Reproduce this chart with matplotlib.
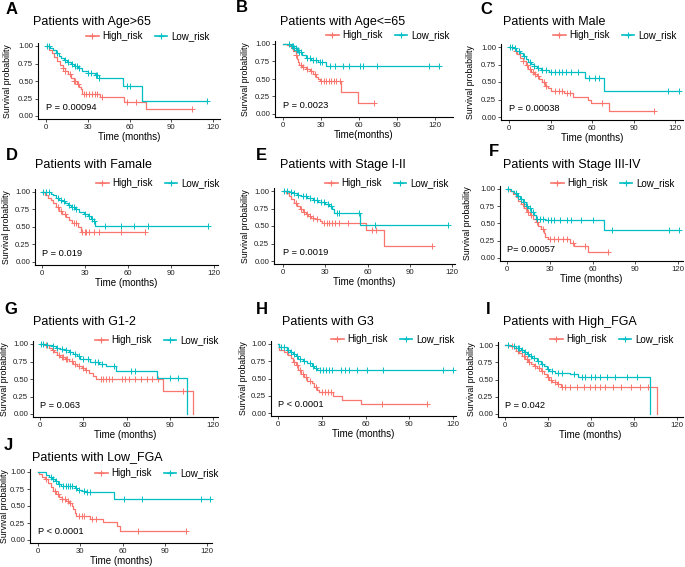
import numpy as np
import matplotlib
matplotlib.use("Agg")
import matplotlib.pyplot as plt
from matplotlib.lines import Line2D

plt.rcParams['font.family'] = ['Liberation Sans', 'DejaVu Sans']

RED = '#F8766D'
TEAL = '#00BFC4'

# ---------------- data ----------------
letters = ['A', 'B', 'C', 'D', 'E', 'F', 'G', 'H', 'I', 'J']
titles = ['Patients with Age>65', 'Patients with Age<=65', 'Patients with Male',
          'Patients with Famale', 'Patients with Stage I-II', 'Patients with Stage III-IV',
          'Patients with G1-2', 'Patients with G3', 'Patients with High_FGA',
          'Patients with Low_FGA']
pvals = ['P = 0.00094', 'P = 0.0023', 'P = 0.00038', 'P = 0.019', 'P = 0.0019',
         'P= 0.00057', 'P = 0.063', 'P < 0.0001', 'P = 0.042', 'P < 0.0001']
xlabels = ['Time (months)', 'Time(months)', 'Time (months)', 'Time (months)',
           'Time (months)', 'Time (months)', 'Time (months)', 'Time (months)',
           'Time (months)', 'Time (months)']
ylabel_text = 'Survival probability'
series_names = ['High_risk', 'Low_risk']
x_ticks = [0, 30, 60, 90, 120]
y_ticks = [0.00, 0.25, 0.50, 0.75, 1.00]

# High risk: step times, survival after step, end of follow-up, censor times
hi_t = {
 'A': [2, 4, 6, 8, 10, 12, 14, 16, 18, 20, 22, 24, 25, 26, 39, 56, 72],
 'B': [3, 6, 8, 10, 11, 12, 13, 15, 18, 21, 24, 26, 28, 29, 46, 59],
 'C': [2, 4, 6, 8, 10, 12, 14, 16, 18, 20, 22, 24, 26, 28, 30, 40, 46, 57, 59, 72],
 'D': [2, 4, 6, 8, 10, 12, 14, 17, 19, 21, 25, 27],
 'E': [2, 4, 6, 8, 10, 12, 14, 16, 18, 20, 23, 26, 28, 59, 72],
 'F': [2, 4, 6, 8, 10, 12, 14, 16, 18, 20, 22, 24, 26, 27, 29, 44, 47, 57],
 'G': [3, 6, 8, 10, 12, 14, 17, 20, 23, 26, 29, 31, 34, 37, 39, 85, 106],
 'H': [0.5, 4, 7, 9, 10, 12, 14, 16, 18, 20, 23, 25, 27, 28, 38, 44, 57],
 'I': [3, 6, 8, 10, 12, 14, 16, 18, 20, 22, 25, 27, 29, 31, 33, 36, 39, 106],
 'J': [1, 3, 5, 7, 9, 11, 13, 15, 17, 20, 22, 24, 25, 26, 27, 37, 46, 56, 58],
}
hi_s = {
 'A': [0.95, 0.90, 0.84, 0.78, 0.73, 0.68, 0.64, 0.60, 0.55, 0.50, 0.46, 0.42, 0.38, 0.31, 0.27, 0.20, 0.10],
 'B': [0.98, 0.94, 0.90, 0.84, 0.79, 0.74, 0.70, 0.67, 0.64, 0.61, 0.57, 0.53, 0.50, 0.47, 0.31, 0.15],
 'C': [0.98, 0.94, 0.90, 0.85, 0.80, 0.74, 0.68, 0.64, 0.61, 0.58, 0.54, 0.50, 0.45, 0.41, 0.37, 0.34, 0.29, 0.25, 0.20, 0.09],
 'D': [0.96, 0.92, 0.88, 0.84, 0.78, 0.73, 0.68, 0.64, 0.60, 0.55, 0.50, 0.43],
 'E': [0.97, 0.93, 0.88, 0.83, 0.78, 0.74, 0.70, 0.67, 0.64, 0.62, 0.60, 0.57, 0.55, 0.44, 0.22],
 'F': [0.97, 0.93, 0.88, 0.83, 0.78, 0.72, 0.67, 0.62, 0.57, 0.52, 0.47, 0.42, 0.36, 0.31, 0.27, 0.22, 0.17, 0.08],
 'G': [0.98, 0.95, 0.91, 0.88, 0.85, 0.82, 0.79, 0.76, 0.72, 0.69, 0.66, 0.63, 0.59, 0.55, 0.50, 0.33, 0.0],
 'H': [0.91, 0.88, 0.84, 0.79, 0.74, 0.69, 0.63, 0.57, 0.52, 0.47, 0.44, 0.38, 0.33, 0.31, 0.25, 0.19, 0.13],
 'I': [0.98, 0.95, 0.92, 0.88, 0.84, 0.80, 0.76, 0.72, 0.69, 0.66, 0.62, 0.58, 0.54, 0.49, 0.46, 0.43, 0.39, 0.0],
 'J': [0.97, 0.93, 0.89, 0.84, 0.78, 0.72, 0.67, 0.63, 0.60, 0.58, 0.55, 0.50, 0.45, 0.40, 0.36, 0.31, 0.27, 0.21, 0.13],
}
hi_end = {'A': 105, 'B': 72, 'C': 105, 'D': 72, 'E': 106, 'F': 71, 'G': 106, 'H': 102, 'I': 106, 'J': 105}
hi_cens = {
 'A': [12, 14, 17, 20, 21, 23, 27, 29, 31, 33, 35, 37, 40, 58, 65, 105],
 'B': [10, 14, 16, 19, 22, 25, 30, 32, 34, 36, 38, 40, 42, 45, 72],
 'C': [5, 10, 13, 15, 17, 19, 21, 25, 27, 33, 36, 38, 42, 44, 67, 105],
 'D': [11, 13, 16, 22, 24, 28, 30, 31, 33, 36, 40, 55, 72],
 'E': [9, 13, 15, 17, 19, 21, 24, 29, 31, 33, 35, 37, 40, 46, 63, 66, 106],
 'F': [11, 13, 15, 17, 21, 25, 30, 33, 36, 39, 42, 46, 55, 71],
 'G': [4, 9, 13, 15, 16, 18, 19, 22, 24, 27, 30, 32, 42, 44, 46, 48, 50, 57, 59, 62, 66, 70, 74, 78, 82, 99],
 'H': [6, 11, 13, 15, 17, 19, 22, 26, 30, 32, 34, 36, 71, 102],
 'I': [5, 9, 13, 15, 17, 21, 24, 26, 30, 32, 35, 37, 40, 42, 45, 50, 55, 59, 63, 66, 70, 75, 81, 88, 94, 100],
 'J': [6, 12, 14, 17, 19, 21, 23, 29, 31, 33, 38, 41, 71, 105],
}

# Low risk
lo_t = {
 'A': [3, 5, 7, 9, 11, 13, 15, 18, 20, 23, 26, 30, 35, 38, 55, 69],
 'B': [6, 9, 11, 13, 15, 18, 22, 28, 34],
 'C': [3, 5, 8, 10, 12, 14, 16, 18, 20, 23, 29, 32, 55, 69],
 'D': [6, 8, 10, 12, 14, 16, 18, 20, 23, 26, 29, 32, 34, 36, 37],
 'E': [4, 7, 10, 13, 17, 21, 25, 30, 33, 35, 36, 55],
 'F': [3, 5, 7, 9, 11, 13, 15, 17, 19, 20, 27, 68],
 'G': [4, 8, 11, 14, 17, 20, 23, 26, 28, 35, 41, 46, 53, 81, 102],
 'H': [1, 6, 8, 10, 12, 14, 17, 20, 23, 25, 27],
 'I': [4, 8, 11, 13, 15, 17, 19, 22, 25, 27, 29, 31, 35, 45, 51, 101],
 'J': [6, 8, 10, 12, 14, 16, 22, 26, 28, 31, 34, 54],
}
lo_s = {
 'A': [0.97, 0.94, 0.90, 0.86, 0.83, 0.80, 0.77, 0.74, 0.71, 0.68, 0.65, 0.61, 0.58, 0.54, 0.43, 0.21],
 'B': [0.97, 0.95, 0.92, 0.88, 0.84, 0.80, 0.77, 0.74, 0.69],
 'C': [0.98, 0.95, 0.91, 0.87, 0.83, 0.79, 0.76, 0.73, 0.70, 0.67, 0.65, 0.64, 0.56, 0.37],
 'D': [0.97, 0.95, 0.92, 0.89, 0.87, 0.84, 0.81, 0.78, 0.76, 0.72, 0.68, 0.66, 0.62, 0.58, 0.51],
 'E': [0.99, 0.97, 0.95, 0.93, 0.90, 0.87, 0.84, 0.82, 0.79, 0.75, 0.69, 0.52],
 'F': [0.97, 0.94, 0.90, 0.86, 0.81, 0.76, 0.72, 0.67, 0.62, 0.57, 0.55, 0.41],
 'G': [0.99, 0.97, 0.95, 0.93, 0.91, 0.89, 0.86, 0.83, 0.78, 0.75, 0.71, 0.69, 0.62, 0.51, 0.0],
 'H': [0.96, 0.92, 0.88, 0.85, 0.82, 0.78, 0.75, 0.72, 0.68, 0.65, 0.62],
 'I': [0.99, 0.96, 0.93, 0.90, 0.87, 0.84, 0.81, 0.77, 0.73, 0.69, 0.65, 0.62, 0.60, 0.58, 0.53, 0.0],
 'J': [0.96, 0.93, 0.90, 0.87, 0.83, 0.80, 0.79, 0.76, 0.74, 0.72, 0.70, 0.60],
}
lo_end = {'A': 116, 'B': 123, 'C': 123, 'D': 116, 'E': 117, 'F': 121, 'G': 102, 'H': 120, 'I': 101, 'J': 122}
lo_cens = {
 'A': [1, 2, 8, 14, 16, 19, 21, 22, 24, 30, 32, 36, 37, 38, 58, 60, 116],
 'B': [5, 7, 8, 9, 10, 11, 12, 13, 14, 19, 21, 24, 26, 29, 31, 37, 41, 47, 52, 61, 63, 74, 115, 123],
 'C': [1, 2, 4, 7, 11, 15, 18, 21, 24, 27, 30, 33, 36, 38, 41, 45, 50, 58, 62, 65, 115, 123],
 'D': [1, 3, 5, 11, 13, 15, 19, 21, 22, 24, 30, 33, 35, 36, 44, 55, 64, 74, 116],
 'E': [1, 3, 6, 8, 11, 14, 16, 19, 22, 24, 27, 29, 32, 34, 38, 40, 54, 65, 117],
 'F': [1, 6, 8, 10, 12, 14, 16, 18, 21, 23, 25, 29, 31, 33, 37, 42, 45, 52, 60, 74, 114, 121],
 'G': [1, 2, 5, 9, 12, 15, 18, 21, 24, 27, 30, 33, 38, 40, 43, 51, 63, 66, 90, 96],
 'H': [2, 4, 7, 9, 11, 13, 15, 18, 22, 24, 26, 29, 31, 33, 35, 37, 43, 46, 49, 54, 61, 72, 113, 120],
 'I': [2, 6, 9, 10, 12, 14, 16, 18, 20, 23, 26, 30, 33, 37, 40, 48, 54, 56, 60, 63, 66, 71, 77, 85, 92],
 'J': [9, 11, 13, 15, 18, 20, 21, 23, 24, 27, 29, 33, 35, 37, 61, 74, 116, 122],
}

# ---------------- layout (pixels) ----------------
W, H = 685, 567
# L, x0, x120, R, y1, y0, T, B
geom = {
 'A': (38, 46, 213, 220, 46, 116, 43, 119),
 'B': (275, 283, 435, 453, 44, 114, 41, 117),
 'C': (501, 509, 675, 683, 47, 117, 44, 120),
 'D': (35, 42, 214, 218, 192, 262, 189, 265),
 'E': (274, 283, 452, 455, 191, 261, 188, 264),
 'F': (500, 507, 678, 683, 189, 258, 186, 261),
 'G': (33, 40, 213, 218, 344, 414, 341, 417),
 'H': (271, 278, 453, 456, 344, 413, 341, 416),
 'I': (498, 505, 677, 683, 345, 414, 342, 417),
 'J': (30, 38, 207, 212, 472, 540, 469, 543),
}
ylabel_x = {'A': 8, 'B': 246, 'C': 470, 'D': 7, 'E': 246, 'F': 468, 'G': 5, 'H': 244,
            'I': 471, 'J': 5}
letter_pos = {'A': (6, 9), 'B': (236, 8), 'C': (480, 10), 'D': (6, 155), 'E': (256, 155),
              'F': (489, 152), 'G': (4, 310), 'H': (256, 310), 'I': (486, 310), 'J': (4, 446)}
title_pos = {'A': (33, 22), 'B': (280, 22), 'C': (503, 22), 'D': (35, 165), 'E': (280, 165),
             'F': (503, 165), 'G': (33, 322), 'H': (282, 322), 'I': (503, 322), 'J': (32, 457)}
legend_pos = {'A': (86, 36), 'B': (326, 35), 'C': (553, 35), 'D': (96, 183), 'E': (325, 183),
              'F': (551, 183), 'G': (95, 340), 'H': (331, 339), 'I': (550, 339), 'J': (95, 473)}

fig = plt.figure(figsize=(W / 100, H / 100), dpi=100)


def step_arrays(ts, ss, end):
    x = [0.0] + list(ts)
    y = [1.0] + list(ss)
    if end > x[-1]:
        x.append(end)
        y.append(y[-1])
    return np.array(x), np.array(y)


def surv_at(ts, ss, c):
    x = np.array([0.0] + list(ts))
    y = np.array([1.0] + list(ss))
    i = np.searchsorted(x, c, side='right') - 1
    return y[i]


def fx(px):
    return px / W


def fy(py):
    return 1 - py / H


for k in letters:
    i = letters.index(k)
    L, x0, x120, R, y1, y0, T, B = geom[k]
    ax = fig.add_axes([fx(L), fy(B), (R - L) / W, (B - T) / H])
    s = (x120 - x0) / 120.0
    ax.set_xlim((L - x0) / s, (R - x0) / s)
    sy = (y0 - y1)
    ax.set_ylim((y0 - B) / sy, (y0 - T) / sy)

    for ts, ss, end, cens, col in [(hi_t[k], hi_s[k], hi_end[k], hi_cens[k], RED),
                                   (lo_t[k], lo_s[k], lo_end[k], lo_cens[k], TEAL)]:
        x, y = step_arrays(ts, ss, end)
        ax.step(x, y, where='post', color=col, lw=0.9, clip_on=False)
        cy = [surv_at(ts, ss, c) for c in cens]
        ax.plot(cens, cy, ls='none', marker='+', ms=4, mew=0.7, color=col, clip_on=False)

    for sp in ['top', 'right']:
        ax.spines[sp].set_visible(False)
    for sp in ['left', 'bottom']:
        ax.spines[sp].set_linewidth(0.8)
    ax.set_xticks(x_ticks)
    ax.set_yticks(y_ticks)
    ax.set_yticklabels(['%.2f' % v for v in y_ticks])
    ax.tick_params(labelsize=5.6, length=2, width=0.6, pad=1.5, colors='#333333',
                   labelcolor='#222222')
    ax.set_xlabel(xlabels[i], fontsize=7, labelpad=0.5)
    ax.text(0, 0.12, pvals[i], fontsize=6.7, ha='left', va='center')

    fig.text(fx(ylabel_x[k]), fy((T + B) / 2), ylabel_text, fontsize=6.3, rotation=90,
             ha='center', va='center')
    lx, ly = letter_pos[k]
    fig.text(fx(lx), fy(ly), k, fontsize=12, fontweight='bold', ha='left', va='center')
    tx, tyy = title_pos[k]
    fig.text(fx(tx), fy(tyy), titles[i], fontsize=9, ha='left', va='center')
    gx, gy = legend_pos[k]
    handles = [Line2D([], [], color=RED, marker='+', ms=4, mew=0.8, lw=1.2),
               Line2D([], [], color=TEAL, marker='+', ms=4, mew=0.8, lw=1.2)]
    fig.legend(handles, series_names, loc='center left', bbox_to_anchor=(fx(gx), fy(gy)),
               ncol=2, frameon=False, fontsize=7, handlelength=1.3, handletextpad=0.4,
               columnspacing=1.2, borderpad=0, borderaxespad=0)

fig.savefig('out.png', dpi=100)
